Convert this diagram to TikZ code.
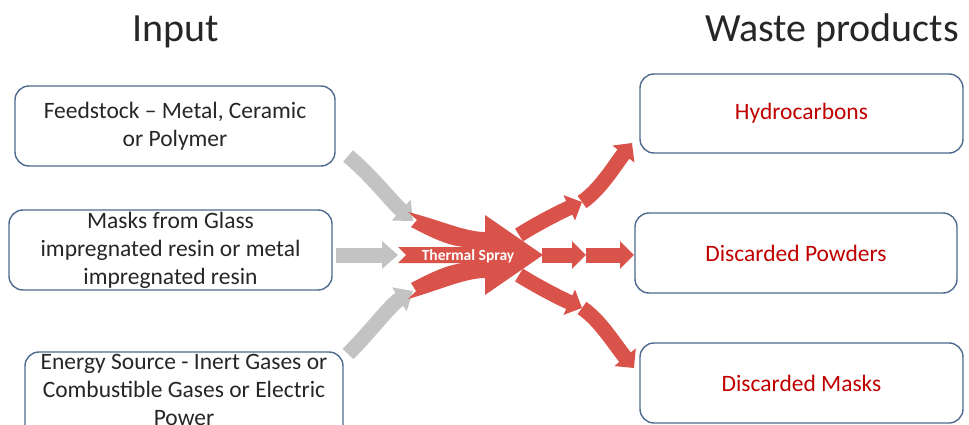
\documentclass[tikz,border=0pt]{standalone}
\usepackage{fontspec}
\setmainfont{Carlito}
\usetikzlibrary{arrows.meta}
\definecolor{boxline}{HTML}{4F6A8F}
\definecolor{wred}{HTML}{C00000}
\definecolor{flowred}{HTML}{D9534A}
\definecolor{flowgray}{HTML}{C3C3C3}
\definecolor{titletext}{HTML}{262626}
\tikzset{
  inbox/.style={draw=boxline, line width=1.4pt, rounded corners=14pt, align=center,
    font=\fontsize{23.5}{28}\selectfont, text=titletext, inner sep=0pt},
  outbox/.style={draw=boxline, line width=1.4pt, rounded corners=14pt, align=center,
    font=\fontsize{23.5}{28}\selectfont, text=wred, inner sep=0pt},
  title/.style={font=\fontsize{40}{44}\selectfont, text=titletext, anchor=base, inner sep=0pt},
  grayarrow/.style={draw=flowgray, line width=15pt, -{Triangle[length=16pt,width=27pt]}},
  redarrow/.style={draw=flowred, line width=15pt, -{Triangle[length=14pt,width=27pt]}}
}
\begin{document}
\begin{tikzpicture}[x=1pt,y=-1pt]
\useasboundingbox (0,0) rectangle (969,425);
\begin{scope}
\clip (0,0) rectangle (969,425);
% titles
\node[title] (tin) at (176,42) {Input};
\node[title] (tout) at (832,42) {Waste products};
% input boxes
\node[inbox, minimum width=320pt, minimum height=80pt] (feed) at (175,126) {Feedstock – Metal, Ceramic\\or Polymer};
\node[inbox, minimum width=323pt, minimum height=80pt] (mask) at (170.5,250) {Masks from Glass\\impregnated resin or metal\\impregnated resin};
\node[inbox, minimum width=318pt, minimum height=90pt] (energy) at (184,397) {};
\node[font=\fontsize{23.5}{28}\selectfont, text=titletext, align=center, anchor=north, inner sep=0pt] (energyt) at (184,354) {Energy Source - Inert Gases or\\Combustible Gases or Electric\\Power};
% output boxes
\node[outbox, minimum width=323pt, minimum height=79pt] (hyd) at (801.5,113.5) {Hydrocarbons};
\node[outbox, minimum width=322pt, minimum height=80pt] (pow) at (796,253) {Discarded Powders};
\node[outbox, minimum width=323pt, minimum height=80pt] (dmask) at (801.5,383) {Discarded Masks};
% gray input arrows
\coordinate (g1s) at (348,156);
\coordinate (g1e) at (413,221);
\coordinate (g2s) at (336,255);
\coordinate (g2e) at (398,255);
\coordinate (g3s) at (348,354);
\coordinate (g3e) at (413,291);
\draw[grayarrow] (g1s) .. controls (372,176) and (390,200) .. (g1e);
\draw[grayarrow] (g2s) -- (g2e);
\draw[grayarrow] (g3s) .. controls (372,330) and (390,305) .. (g3e);
% red central merged arrow
\fill[flowred] (408,212) .. controls (440,220) and (465,232) .. (485,232)
  -- (485,215) -- (543,255) -- (485,295) -- (485,278)
  .. controls (465,278) and (440,290) .. (408,299)
  -- (416,291) -- (411,283)
  .. controls (430,273) and (448,264) .. (465,263)
  -- (398,263) -- (406,255) -- (398,247)
  -- (465,247)
  .. controls (448,246) and (430,237) .. (411,227)
  -- (417,220) -- cycle;
\node[font=\bfseries\fontsize{15.5}{18}\selectfont, text=white, inner sep=0pt] (ts) at (468,256) {Thermal Spray};
% red output arrows
\coordinate (r1a) at (519,235);
\coordinate (r1b) at (582,202);
\coordinate (r1c) at (632,143);
\coordinate (r2a) at (542,255);
\coordinate (r2b) at (586,255);
\coordinate (r2c) at (634,255);
\coordinate (r3a) at (519,275);
\coordinate (r3b) at (582,308);
\coordinate (r3c) at (634,368);
\draw[redarrow] (r1a) .. controls (540,222) and (560,212) .. (r1b);
\draw[redarrow] (r1b) .. controls (600,190) and (615,165) .. (r1c);
\draw[redarrow] (r2a) -- (r2b);
\draw[redarrow] (r2b) -- (r2c);
\draw[redarrow] (r3a) .. controls (540,288) and (560,298) .. (r3b);
\draw[redarrow] (r3b) .. controls (600,320) and (615,345) .. (r3c);
\end{scope}
\end{tikzpicture}
\end{document}
